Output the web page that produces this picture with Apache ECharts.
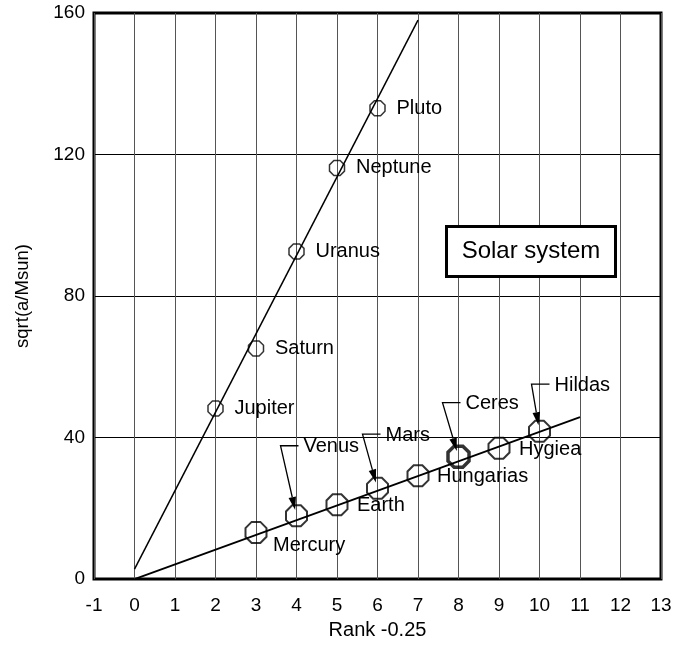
<!DOCTYPE html>
<html>
<head>
<meta charset="utf-8">
<script src="https://cdn.jsdelivr.net/npm/echarts@6/dist/echarts.min.js"></script>
<style>html,body{margin:0;padding:0;background:#fff;overflow:hidden}#main{width:689px;height:645px}</style>
</head>
<body>
<div id="main"></div>
<script>
// ---- data ----
const xMin = -1, xMax = 13, xStep = 1;
const yMin = 0, yMax = 160, yStep = 40;
const upperNames = ['Jupiter', 'Saturn', 'Uranus', 'Neptune', 'Pluto'];
const upperRank = [2, 3, 4, 5, 6];
const upperValues = [48.2, 65.2, 92.6, 116.2, 133.1];
const lowerNames = ['Mercury', 'Venus', 'Earth', 'Mars', 'Hungarias', 'Ceres', 'Hygiea', 'Hildas'];
const lowerRank = [3, 4, 5, 6, 7, 8, 9, 10];
const lowerValues = [13.2, 17.9, 21.0, 25.7, 29.2, 34.6, 37.0, 41.8];
const upperFitX = [0, 7];
const upperFitY = [2.8, 158];
const lowerFitX = [0, 11];
const lowerFitY = [0, 45.8];
const xTitle = 'Rank -0.25';
const yTitle = 'sqrt(a/Msun)';
const boxTitle = 'Solar system';
const calloutNames = ['Venus', 'Mars', 'Ceres', 'Hildas'];

// ---- styles ----
const FONT = 'Liberation Sans, Arial, sans-serif';
const FS = 19;
const LFS = 20;
const OCT = 'path://M-4.14,-10 L4.14,-10 L10,-4.14 L10,4.14 L4.14,10 L-4.14,10 L-10,4.14 L-10,-4.14 Z';
const upperLabelOffset = [19, 0];
const lowerLabelOffset = {
  Mercury: [17, 13],
  Earth: [20, 1],
  Hungarias: [19, 1],
  Hygiea: [20, 1]
};
const calloutOffset = {
  Venus: [-16, -70],
  Mars: [-15, -54],
  Ceres: [-16, -54],
  Hildas: [-8, -47]
};

const chart = echarts.init(document.getElementById('main'));

const upperData = upperNames.map((n, i) => ({name: n, value: [upperRank[i], upperValues[i]]}));
const lowerData = lowerNames.map((n, i) => ({
  name: n,
  value: [lowerRank[i], lowerValues[i]],
  itemStyle: n === 'Ceres' ? {borderWidth: 3.5} : undefined
}));

chart.setOption({
  animation: false,
  grid: {left: 94, right: 28, top: 13, bottom: 65, show: true, borderColor: '#000', borderWidth: 3, backgroundColor: 'transparent'},
  xAxis: {
    type: 'value', min: xMin, max: xMax, interval: xStep,
    axisLine: {show: false}, axisTick: {show: false},
    axisLabel: {color: '#000', fontSize: FS, fontFamily: FONT, margin: 17},
    splitLine: {show: true, lineStyle: {color: '#555', width: 1}},
    name: xTitle, nameLocation: 'middle', nameGap: 40,
    nameTextStyle: {color: '#000', fontSize: 20, fontFamily: FONT}
  },
  yAxis: {
    type: 'value', min: yMin, max: yMax, interval: yStep,
    axisLine: {show: false}, axisTick: {show: false},
    axisLabel: {color: '#000', fontSize: FS, fontFamily: FONT, margin: 9},
    splitLine: {show: true, lineStyle: {color: '#000', width: 1}},
    name: yTitle, nameLocation: 'middle', nameGap: 62,
    nameTextStyle: {color: '#000', fontSize: 18.5, fontFamily: FONT}
  },
  series: [
    {type: 'line', data: upperFitX.map((x, i) => [x, upperFitY[i]]), symbol: 'none', lineStyle: {color: '#000', width: 1.5}, z: 2},
    {type: 'line', data: lowerFitX.map((x, i) => [x, lowerFitY[i]]), symbol: 'none', lineStyle: {color: '#000', width: 1.8}, z: 2},
    {type: 'scatter', data: upperData, symbol: OCT, symbolSize: 15,
     itemStyle: {color: 'transparent', borderColor: '#000', borderWidth: 1.5}, z: 3},
    {type: 'scatter', data: lowerData, symbol: OCT, symbolSize: 21,
     itemStyle: {color: 'transparent', borderColor: '#000', borderWidth: 2}, z: 3}
  ]
});

// labels, callouts & box
const els = [];
function addText(x, y, t, size) {
  els.push({type: 'text', z: 10, x: x, y: y, style: {text: t, fontSize: size || LFS, fontFamily: FONT, fill: '#000', align: 'left', verticalAlign: 'middle'}});
}
upperNames.forEach((n, i) => {
  const P = chart.convertToPixel({gridIndex: 0}, [upperRank[i], upperValues[i]]);
  addText(P[0] + upperLabelOffset[0], P[1] + upperLabelOffset[1], n);
});
lowerNames.forEach((n, i) => {
  const P = chart.convertToPixel({gridIndex: 0}, [lowerRank[i], lowerValues[i]]);
  if (!calloutNames.includes(n)) {
    const o = lowerLabelOffset[n];
    addText(P[0] + o[0], P[1] + o[1], n);
    return;
  }
  const off = calloutOffset[n];
  const C = [P[0] + off[0], P[1] + off[1]];
  let dx = P[0] - C[0], dy = P[1] - C[1];
  const len = Math.sqrt(dx * dx + dy * dy); dx /= len; dy /= len;
  const tip = [P[0] - dx * 6, P[1] - dy * 6];
  const base = [tip[0] - dx * 13, tip[1] - dy * 13];
  const px = -dy, py = dx;
  els.push({type: 'polyline', z: 10, shape: {points: [[C[0] + 18, C[1]], C, base]}, style: {stroke: '#000', lineWidth: 1.3, fill: null}});
  els.push({type: 'polygon', z: 10, shape: {points: [tip, [base[0] + px * 3.8, base[1] + py * 3.8], [base[0] - px * 3.8, base[1] - py * 3.8]]}, style: {fill: '#000'}});
  addText(C[0] + 23, C[1] + 1, n);
});
els.push({type: 'rect', z: 10, left: 445, top: 225, shape: {width: 169, height: 50}, style: {fill: '#fff', stroke: '#000', lineWidth: 3}});
els.push({type: 'text', z: 11, x: 531, y: 251, style: {text: boxTitle, fontSize: 24, fontFamily: FONT, fill: '#000', align: 'center', verticalAlign: 'middle'}});
chart.setOption({graphic: {elements: els}});
</script>
</body>
</html>
